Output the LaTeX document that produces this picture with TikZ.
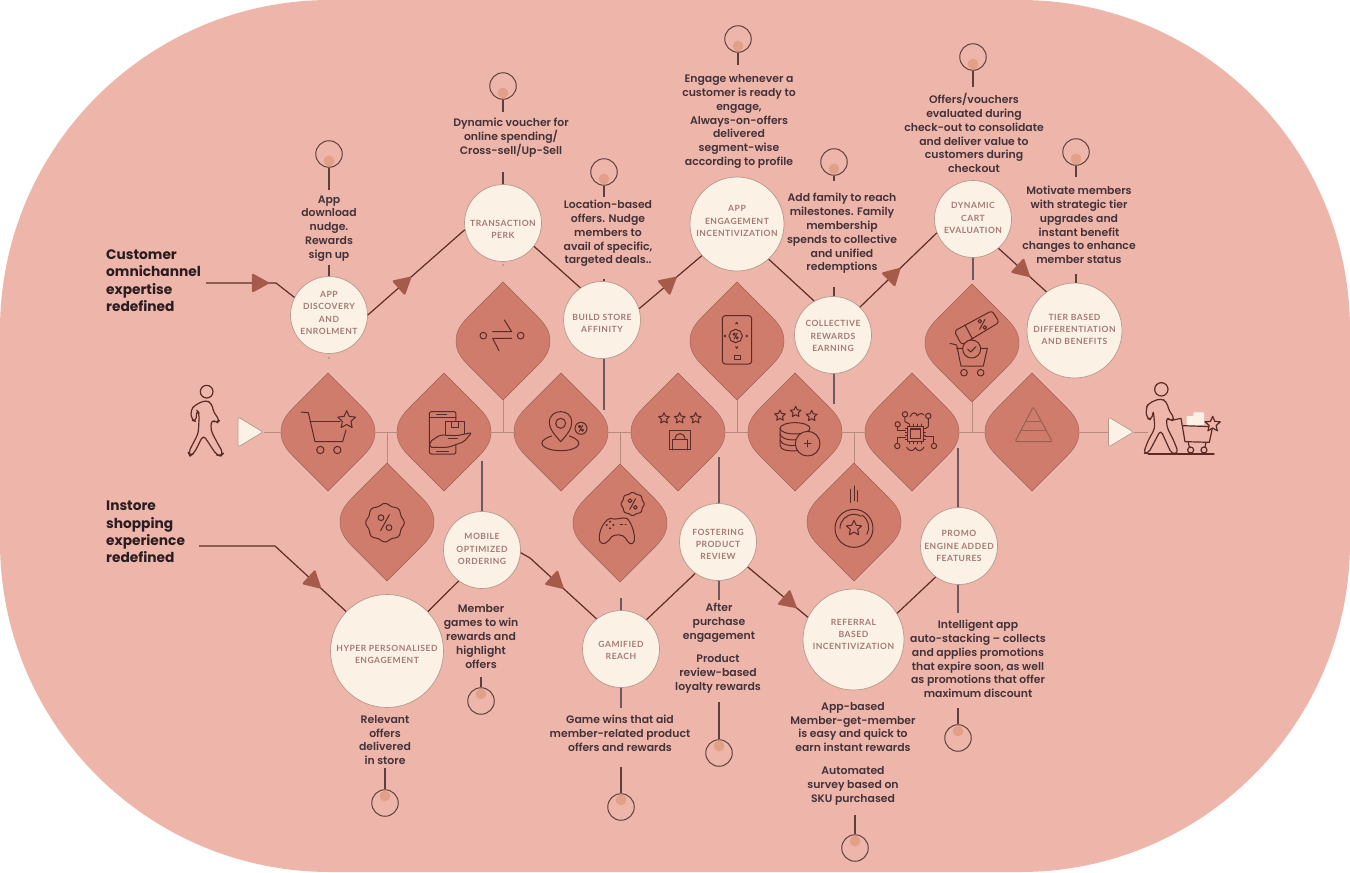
\documentclass[tikz,border=0pt]{standalone}
\usepackage{fontspec}
\usetikzlibrary{shapes.geometric,calc}
\setmainfont{Poppins}[UprightFont=* SemiBold,BoldFont=* Bold]
\newfontfamily\capfont{Lato}[LetterSpace=6]
\definecolor{bgc}{HTML}{EEB6AA}
\definecolor{petalc}{HTML}{CF7C6C}
\definecolor{petale}{HTML}{9A6054}
\definecolor{creamc}{HTML}{FBF2E5}
\definecolor{rimc}{HTML}{B8988C}
\definecolor{inkc}{HTML}{44323A}
\definecolor{headc}{HTML}{2A1C20}
\definecolor{capc}{HTML}{A57A74}
\definecolor{iconc}{HTML}{5A2A26}
\definecolor{stemc}{HTML}{5E3F3E}
\definecolor{longc}{HTML}{6E5A5C}
\definecolor{trunkc}{HTML}{B98A7F}
\definecolor{linkc}{HTML}{5E2E28}
\definecolor{arrowc}{HTML}{A65A4C}
\definecolor{dotc}{HTML}{E3A088}
\tikzset{
 petalshape/.style={fill=petalc,draw=petale,line width=.4bp},
 petalbox/.style={rectangle,minimum width=94bp,minimum height=118bp,inner sep=0},
 circnode/.style={circle,fill=creamc,draw=rimc,line width=.7bp,inner sep=0},
 clab/.style={font=\capfont\bfseries\fontsize{8.6}{12.2}\selectfont,text=capc,align=center},
 bodytxt/.style={font=\fontsize{10.9}{13.9}\selectfont,text=inkc,align=center,inner sep=0},
 headtxt/.style={font=\bfseries\fontsize{13.8}{17.5}\selectfont,text=headc,align=left,anchor=west,inner sep=0},
 pinnode/.style={circle,draw=stemc,line width=1bp,minimum size=26.5bp,inner sep=0},
 stemline/.style={draw=stemc,line width=1.1bp},
 longline/.style={draw=longc,line width=1.3bp},
 trunk/.style={draw=trunkc,line width=1bp},
 linkline/.style={draw=linkc,line width=1.2bp},
 tri/.style={isosceles triangle,isosceles triangle stretches,fill=arrowc,minimum width=20bp,minimum height=18bp,inner sep=0,sloped,allow upside down,rounded corners=1.5bp},
 playn/.style={isosceles triangle,isosceles triangle stretches,fill=creamc,draw=rimc,line width=.7bp,minimum width=30bp,minimum height=25bp,inner sep=0,rounded corners=2bp},
 icon/.style={draw=iconc,line width=1bp,line cap=round,line join=round},
 zA/.style={shift={(100,130)},x=.33333bp,y=-.33333bp,icon},
 zB/.style={shift={(170,370)},x=.33333bp,y=-.33333bp,icon},
 zC/.style={shift={(560,280)},x=.33333bp,y=-.33333bp,icon},
 zD/.style={shift={(900,280)},x=.33333bp,y=-.33333bp,icon},
}
\newcommand\petal[3]{%
 \draw[petalshape,shift={(#2,#3)}] (0,-59) -- (-35,-24) .. controls (-43,-16) and (-47,-9) .. (-47,0) .. controls (-47,9) and (-43,16) .. (-35,24) -- (0,59) -- (35,24) .. controls (43,16) and (47,9) .. (47,0) .. controls (47,-9) and (43,-16) .. (35,-24) -- cycle;
 \node[petalbox] (#1) at (#2,#3) {};}
\newcommand\cnode[6]{\node[circnode,minimum size=#4bp,label={[clab,yshift=-#5bp]center:{#6}}] (#1) at (#2,#3) {};}
\newcommand\pin[4]{\node[pinnode] (#1) at (#2,#3) {}; \fill[dotc] (#2,#3+#4) circle[radius=5.4];}
\newcommand\stemto[4][stemline]{\coordinate (#2) at (#4); \draw[#1] (#2 |- #3) -- (#2);}
\newcommand\icstar[3]{\draw ([shift={(-90:#3)}]#1,#2) -- ([shift={(-54:.48*#3)}]#1,#2) -- ([shift={(-18:#3)}]#1,#2) -- ([shift={(18:.48*#3)}]#1,#2) -- ([shift={(54:#3)}]#1,#2) -- ([shift={(90:.48*#3)}]#1,#2) -- ([shift={(126:#3)}]#1,#2) -- ([shift={(162:.48*#3)}]#1,#2) -- ([shift={(198:#3)}]#1,#2) -- ([shift={(234:.48*#3)}]#1,#2) -- cycle;}
\newcommand\icpct[3]{\draw ({#1-.55*#3},{#2+#3}) -- ({#1+.55*#3},{#2-#3}); \draw ({#1-.5*#3},{#2-.62*#3}) circle[radius=.36*#3]; \draw ({#1+.5*#3},{#2+.62*#3}) circle[radius=.36*#3];}
\newcommand\icscal[3]{\draw[smooth cycle] plot[domain=0:352,samples=45,variable=\t] ({#1+#3*(1+.055*cos(8*\t))*cos(\t)},{#2+#3*(1+.055*cos(8*\t))*sin(\t)});}
\begin{document}
\begin{tikzpicture}[x=1bp,y=-1bp]
\useasboundingbox (0,0) rectangle (1350,872);
\fill[bgc,rounded corners=330bp] (0,0) rectangle (1350,872);
% petals
\petal{d1}{328}{432}\petal{d2}{444}{432}\petal{d3}{561}{432}\petal{d4}{678}{432}\petal{d5}{795}{432}\petal{d6}{912}{432}\petal{d7}{1032}{432}
\petal{u1}{503}{341}\petal{u2}{737}{341}\petal{u3}{972}{343}
\petal{l1}{387}{522}\petal{l2}{620}{523}\petal{l3}{854}{522}
% trunk
\node[playn] (ps) at (246.5,432) {};
\node[playn] (pe) at (1117,432) {};
\coordinate (tend) at (1148,432);
\draw[trunk] (ps.east) -- (d1.west);
\draw[trunk] (d1.east) -- (d2.west);
\draw[trunk] (d2.east) -- (d3.west);
\draw[trunk] (d3.east) -- (d4.west);
\draw[trunk] (d4.east) -- (d5.west);
\draw[trunk] (d5.east) -- (d6.west);
\draw[trunk] (d6.east) -- (d7.west);
\draw[trunk] (d7.east) -- (pe.west);
\draw[trunk] (pe.east) -- (tend);
\draw[trunk] (u1.south) -- (u1.south |- d1.west);
\draw[trunk] (u2.south) -- (u2.south |- d1.west);
\draw[trunk] (u3.south) -- (u3.south |- d1.west);
\draw[trunk] (l1.north) -- (l1.north |- d1.west);
\draw[trunk] (l2.north) -- (l2.north |- d1.west);
\draw[trunk] (l3.north) -- (l3.north |- d1.west);
% circles
\cnode{app}{329}{315}{77}{-2}{APP\\DISCOVERY\\AND\\ENROLMENT}
\cnode{trans}{503}{223}{77}{6}{TRANSACTION\\PERK}
\cnode{build}{602}{320}{77}{3}{BUILD STORE\\AFFINITY}
\cnode{eng}{737}{224}{94}{-3}{APP\\ENGAGEMENT\\INCENTIVIZATION}
\cnode{coll}{833}{335}{77}{1}{COLLECTIVE\\REWARDS\\EARNING}
\cnode{dyn}{973}{219}{77}{-1}{DYNAMIC\\CART\\EVALUATION}
\cnode{tier}{1074.5}{330.5}{95}{-1}{TIER BASED\\DIFFERENTIATION\\AND BENEFITS}
\cnode{mob}{482}{550}{77}{-1}{MOBILE\\OPTIMIZED\\ORDERING}
\cnode{hyp}{387}{651}{113}{3.5}{HYPER PERSONALISED\\ENGAGEMENT}
\cnode{gam}{621}{649}{77}{1}{GAMIFIED\\REACH}
\cnode{fos}{718}{542}{77}{2.5}{FOSTERING\\PRODUCT\\REVIEW}
\cnode{ref}{853.5}{639.5}{101}{-5}{REFERRAL\\BASED\\INCENTIVIZATION}
\cnode{pro}{959}{546}{77}{0}{PROMO\\ENGINE ADDED\\FEATURES}
% links
\coordinate (cstart) at (206,283); \coordinate (cbend) at (276,283);
\draw[linkline] (cstart) -- node[tri,pos=.74]{} (cbend) -- (app.153);
\coordinate (istart) at (199,546); \coordinate (ibend) at (275,546);
\draw[linkline] (istart) -- (ibend) -- node[tri,pos=.53]{} (hyp.136);
\draw[linkline] (app.0) -- node[tri,pos=.36]{} (trans.190);
\draw[linkline] (trans.-37) -- (build.124);
\draw[linkline] (build.17) -- node[tri,pos=.46]{} (eng.222);
\draw[linkline] (eng.-48) -- (coll.119);
\draw[linkline] (coll.46) -- node[tri,pos=.42]{} (dyn.201);
\draw[linkline] (dyn.-49) -- node[tri,pos=.48]{} (tier.126);
\draw[linkline] (hyp.44) -- (mob.233);
\coordinate (mbend) at (530,558);
\draw[linkline] (mob.-4) -- (mbend) -- node[tri,pos=.38]{} (gam.129);
\draw[linkline] (gam.49) -- (fos.234);
\draw[linkline] (fos.-40) -- node[tri,pos=.67]{} (ref.154);
\draw[linkline] (ref.31) -- (pro.233);
% pins
\pin{p1}{329}{154}{7}\pin{p2}{503}{86}{7}\pin{p3}{604}{172}{7}\pin{p4}{738}{39}{7}\pin{p5}{834}{162}{7}\pin{p6}{973}{57}{7}\pin{p7}{1076}{152}{7}
\pin{q1}{481}{701}{-7}\pin{q2}{385}{803}{-7}\pin{q3}{621}{807}{-7}\pin{q4}{719}{753}{-7}\pin{q5}{958}{738}{-7}\pin{q6}{855}{848}{-7}
% pin stems and short ticks
\stemto{a1}{p1.south}{329,190}\stemto{a2}{p2.south}{503,112}\stemto{a3}{p3.south}{604,197}\stemto{a4}{p4.south}{738,65}\stemto{a5}{p5.south}{834,181}\stemto{a6}{p6.south}{973,87}\stemto{a7}{p7.south}{1076,177}
\stemto{b1}{q1.north}{481,677}\stemto{b2}{q2.north}{385,768}\stemto{b3}{q3.north}{621,767}\stemto{b4}{q4.north}{719,702}\stemto{b5}{q5.north}{958,708}\stemto{b6}{q6.north}{855,815}
\stemto{c1}{app.north}{329,265}\stemto{c2}{trans.north}{503,172}\stemto{c3}{build.north}{604,279}\stemto{c5}{coll.north}{834,287}\stemto{c7}{tier.north}{1076,274}
\stemto[longline]{e1}{dyn.south}{973,280}
\stemto[longline]{e2}{build.south}{604,410}
\stemto[longline]{e3}{coll.south}{834,404}
\stemto[longline]{e4}{mob.north}{482,461}
\stemto[longline]{e5}{fos.north}{719,457}
\stemto[longline]{e6}{pro.north}{958,448}
\stemto[longline]{e7}{gam.south}{621,708}
\stemto[longline]{e8}{fos.south}{719,600}
\stemto[longline]{e9}{pro.south}{958,613}
\stemto[longline]{e10}{gam.north}{621,598}
\fill[stemc] (329,358) circle[radius=.7] (503,265) circle[radius=.7];
% texts
\node[headtxt] (t1) at (106,280.5) {Customer\\omnichannel\\expertise\\redefined};
\node[headtxt] (t2) at (106,532) {Instore\\shopping\\experience\\redefined};
\node[bodytxt] (x1) at (329,228.5) {App\\download\\nudge.\\Rewards\\sign up};
\node[bodytxt] (x2) at (511,138) {Dynamic voucher for\\online spending/\\Cross-sell/Up-Sell};
\node[bodytxt] (x3) at (608,233.5) {Location-based\\offers. Nudge\\members to\\avail of specific,\\targeted deals..};
\node[bodytxt] (x4) at (739,121.5) {Engage whenever a\\customer is ready to\\engage,\\Always-on-offers\\delivered\\segment-wise\\according to profile};
\node[bodytxt] (x5) at (842,233.5) {Add family to reach\\milestones. Family\\membership\\spends to collective\\and unified\\redemptions};
\node[bodytxt] (x6) at (974,133) {Offers/vouchers\\evaluated during\\check-out to consolidate\\and deliver value to\\customers during\\checkout};
\node[bodytxt] (x7) at (1079,225) {Motivate members\\with strategic tier\\upgrades and\\instant benefit\\changes to enhance\\member status};
\node[bodytxt] (x8) at (481,636.5) {Member\\games to win\\rewards and\\highlight\\offers};
\node[bodytxt] (x9) at (385,740) {Relevant\\offers\\delivered\\in store};
\node[bodytxt] (x10) at (620,733) {Game wins that aid\\member-related product\\offers and rewards};
\node[bodytxt] (x11) at (719,623) {After\\purchase\\engagement};
\node[bodytxt] (x12) at (718,674) {Product\\review-based\\loyalty rewards};
\node[bodytxt] (x13) at (978,659) {Intelligent app\\auto-stacking – collects\\and applies promotions\\that expire soon, as well\\as promotions that offer\\maximum discount};
\node[bodytxt] (x14) at (853,727) {App-based\\Member-get-member\\is easy and quick to\\earn instant rewards};
\node[bodytxt] (x15) at (853,786) {Automated\\survey based on\\SKU purchased};
% walker
\begin{scope}[zB]
 \draw[line width=1.2bp] (110,65) circle[radius=19];
 \draw[line width=1.2bp,rounded corners=4bp] (108,90) -- (125,100) -- (132,130) -- (150,150) -- (140,160) -- (125,148) -- (122,180) -- (140,215) -- (160,250) -- (152,258) -- (140,255) -- (100,195) -- (72,250) -- (60,258) -- (55,248) -- (85,190) -- (88,130) -- (80,120) -- (78,155) -- (65,150) -- (62,120) -- (75,105) -- cycle;
 % cart
 \draw (393,126) -- (415,128) -- (435,215) -- (518,215) -- (528,180);
 \draw (420,155) -- (510,155);
 \draw (451,240) circle[radius=11]; \draw (502,240) circle[radius=11];
 \icstar{530}{150}{28}
 % phone hand
 \draw[rounded corners=2bp] (778,125) rectangle (858,252);
 \draw (778,142) -- (858,142); \draw (800,133) -- (830,133); \draw (800,243) -- (835,243);
 \draw[fill=petalc] (828,155) rectangle (885,195); \draw (845,155) -- (845,172) -- (865,172) -- (865,155);
 \draw[fill=petalc,rounded corners=2bp] (780,215) -- (810,195) -- (860,197) -- (905,188) -- (882,215) -- (835,232) -- (780,232) -- cycle;
 \draw (835,205) -- (862,205);
 % location
 \draw (1172,215) .. controls (1150,190) and (1138,175) .. (1138,158) .. controls (1138,135) and (1155,125) .. (1172,125) .. controls (1190,125) and (1205,135) .. (1205,158) .. controls (1205,175) and (1195,190) .. (1172,215) -- cycle;
 \draw (1172,160) circle[radius=15];
 \draw (1145,198) .. controls (1090,215) and (1120,242) .. (1172,242) .. controls (1225,242) and (1250,215) .. (1198,198);
 \draw (1233,175) circle[radius=18]; \icpct{1233}{175}{9}
 % badge
 \icscal{645}{458}{55}
 \icpct{645}{458}{24}
\end{scope}
\begin{scope}[zA]
 \draw (1150,617) circle[radius=10]; \draw (1262,617) circle[radius=10];
 \draw (1178,605) -- (1235,605) -- (1213,570);
 \draw (1235,625) -- (1178,625) -- (1197,662);
\end{scope}
\begin{scope}[zC]
 % game pad
 \icscal{218}{672}{33}
 \icpct{218}{672}{16}
 \draw (150,715) .. controls (170,722) and (185,710) .. (200,715) .. controls (215,725) and (228,770) .. (222,785) .. controls (215,798) and (205,790) .. (197,775) .. controls (190,762) and (165,762) .. (155,770) .. controls (145,785) and (130,800) .. (120,785) .. controls (112,770) and (125,725) .. (150,715) -- cycle;
 \fill[iconc] (140,735) circle[radius=3.5] (150,725) circle[radius=3.5] (150,745) circle[radius=3.5] (160,735) circle[radius=3.5];
 \draw (180,735) -- (188,735); \draw (195,735) -- (198,735);
 % stars lock
 \icstar{312}{415}{17}\icstar{359}{415}{17}\icstar{407}{415}{17}
 \draw (327,451) rectangle (392,510);
 \draw (338,510) -- (338,478) -- (382,478) -- (382,510);
 \draw (345,478) .. controls (345,455) and (375,455) .. (375,478);
 % phone pct
 \draw[rounded corners=3bp] (487,107) rectangle (575,252);
 \icscal{527}{168}{19}
 \icpct{527}{168}{9}
 \draw (522,226) rectangle (540,238);
 \draw (527,132) -- (530,127) -- (533,132); \draw (527,200) -- (530,205) -- (533,200);
 \draw (497,165) -- (492,168) -- (497,171); \draw (558,165) -- (563,168) -- (558,171);
 % database
 \icstar{660}{407}{17}\icstar{707}{396}{17}\icstar{755}{408}{17}
 \draw (660,445) arc[start angle=180,end angle=540,x radius=45,y radius=17];
 \draw (660,445) -- (660,495) .. controls (660,512) and (690,514) .. (712,512);
 \draw (660,462) .. controls (665,480) and (700,482) .. (712,478);
 \draw (660,480) .. controls (665,497) and (695,498) .. (708,496);
 \draw[fill=petalc] (743,491) circle[radius=37];
 \draw (743,481) -- (743,501); \draw (733,491) -- (753,491);
 % chip
 \draw (1042,438) rectangle (1090,485); \draw[line width=1.4bp] (1051,447) rectangle (1081,476);
 \foreach \k in {0,1,2,3}{\draw (1048+\k*12,432) -- (1048+\k*12,438); \draw (1048+\k*12,485) -- (1048+\k*12,491); \draw (1036,444+\k*12) -- (1042,444+\k*12); \draw (1090,444+\k*12) -- (1096,444+\k*12);}
 \draw (1013,433) circle[radius=8]; \draw (1105,408) circle[radius=8]; \draw (1122,498) circle[radius=8]; \draw (1012,498) circle[radius=8]; \draw (1035,403) circle[radius=8];
 \draw (1013,441) -- (1013,450) -- (1036,450);
 \draw (1105,416) -- (1105,440) -- (1096,446);
 \draw (1096,470) -- (1122,470) -- (1122,490);
 \draw (1012,490) -- (1012,474) -- (1036,474);
 \draw (1035,411) -- (1035,425) -- (1048,432);
 \draw (1050,410) .. controls (1058,395) and (1068,395) .. (1072,408) .. controls (1076,400) and (1086,398) .. (1092,405);
 \draw (1040,502) .. controls (1048,515) and (1060,515) .. (1066,503) .. controls (1072,515) and (1085,515) .. (1092,502);
 % coupon cart
 \draw[rounded corners=3bp] (1183,153) -- (1296,92) -- (1318,127) -- (1205,195) -- cycle;
 \draw (1215,135) -- (1238,178);
 \icpct{1267}{133}{15}
 \draw (1170,190) -- (1190,195) -- (1203,258) -- (1270,258) -- (1282,205) -- (1190,205);
 \draw[fill=petalc] (1235,207) circle[radius=27];
 \draw (1223,207) -- (1232,216) -- (1248,200);
 \draw (1212,278) circle[radius=10]; \draw (1262,278) circle[radius=10];
 % coin
 \draw (882,745) circle[radius=57];
 \draw (840,745) arc[start angle=180,end angle=300,radius=42];
 \draw (905,705) arc[start angle=-60,end angle=30,radius=42];
 \icstar{882}{745}{24}
 \draw (871,628) -- (871,668); \draw (882,618) -- (882,662); \draw (892,632) -- (892,665);
\end{scope}
\begin{scope}[zD]
 % pyramid
 \draw[draw=petale,rounded corners=2bp] (400,380) -- (345,485) -- (457,485) -- cycle;
 \draw[draw=petale] (377,425) -- (424,425); \draw[draw=petale] (362,452) -- (440,452);
 % walker with cart
 \draw[line width=1.2bp] (784,328) circle[radius=20];
 \draw[line width=1.2bp,rounded corners=4bp] (782,355) -- (800,365) -- (808,395) -- (825,415) -- (812,425) -- (800,410) -- (800,440) -- (825,490) -- (835,520) -- (815,522) -- (782,450) -- (745,520) -- (730,520) -- (745,480) -- (765,445) -- (760,390) -- (755,420) -- (740,415) -- (738,385) -- (745,370) -- cycle;
 \draw[line width=1.4bp] (745,522) -- (942,522);
 \draw[fill=creamc,draw=none,rounded corners=1bp] (880,397) rectangle (912,435);
 \draw[fill=creamc,draw=none,rounded corners=1bp] (860,408) rectangle (895,437);
 \draw[line width=1.2bp] (820,420) -- (843,415) -- (855,485) -- (928,487) -- (938,440) -- (848,437);
 \draw[line width=1.2bp] (872,510) circle[radius=9]; \draw[line width=1.2bp] (912,510) circle[radius=9];
 \draw[line width=1.2bp] (865,487) -- (868,501); \draw[line width=1.2bp] (918,487) -- (915,501);
 \draw[line width=1.2bp,fill=bgc] ([shift={(-90:24)}]938,433) -- ([shift={(-54:11)}]938,433) -- ([shift={(-18:24)}]938,433) -- ([shift={(18:11)}]938,433) -- ([shift={(54:24)}]938,433) -- ([shift={(90:11)}]938,433) -- ([shift={(126:24)}]938,433) -- ([shift={(162:11)}]938,433) -- ([shift={(198:24)}]938,433) -- ([shift={(234:11)}]938,433) -- cycle;
\end{scope}
\end{tikzpicture}
\end{document}
